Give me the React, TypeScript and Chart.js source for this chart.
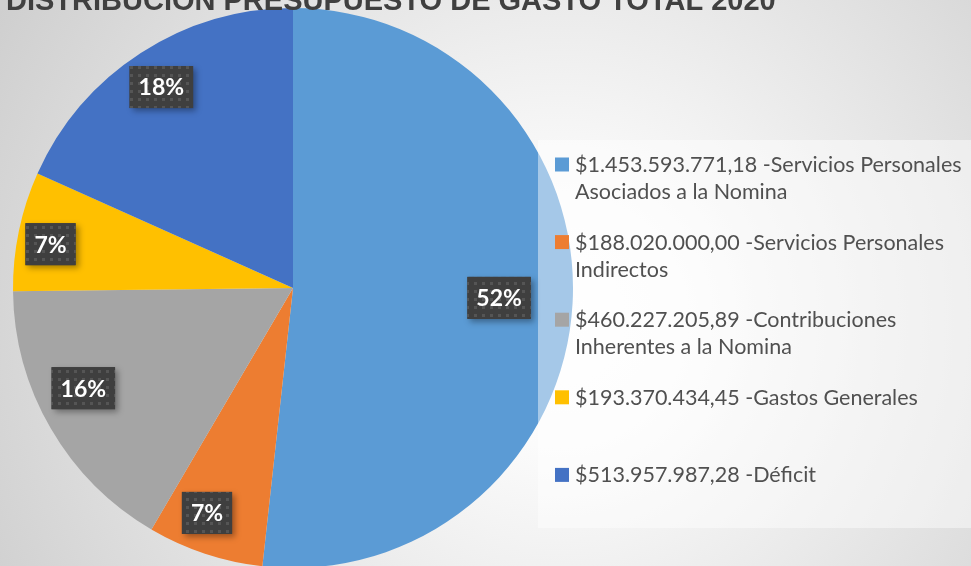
import React, { useEffect, useRef } from "react";
import { Chart, registerables } from "chart.js";
Chart.register(...registerables);

const TITLE = "DISTRIBUCION PRESUPUESTO DE GASTO TOTAL 2020";
const CATEGORIES = [
  "Servicios Personales Asociados a la Nomina",
  "Servicios Personales Indirectos",
  "Contribuciones Inherentes a la Nomina",
  "Gastos Generales",
  "Déficit",
];
const VALUES = [1453593771.18, 188020000.0, 460227205.89, 193370434.45, 513957987.28];
const LEGEND_LINES = [
  ["$1.453.593.771,18 -Servicios Personales", "Asociados a la Nomina"],
  ["$188.020.000,00 -Servicios Personales", "Indirectos"],
  ["$460.227.205,89 -Contribuciones", "Inherentes a la Nomina"],
  ["$193.370.434,45 -Gastos Generales"],
  ["$513.957.987,28 -Déficit"],
];
const COLORS = ["#5B9BD5", "#ED7D31", "#A5A5A5", "#FFC000", "#4472C4"];
const LABEL_RADIUS = [0.737, 0.86, 0.83, 0.88, 0.858];
const LABEL_ANGLE_SHIFT = [-0.4, 2.6, 4.6, -1.5, -0.3];

const W = 971;
const H = 566;
const CANVAS_H = 600;

function makePattern(ctx: CanvasRenderingContext2D) {
  const p = document.createElement("canvas");
  p.width = 8;
  p.height = 8;
  const c = p.getContext("2d")!;
  c.fillStyle = "#3f3f3f";
  c.fillRect(0, 0, 8, 8);
  c.fillStyle = "#555555";
  c.fillRect(2, 2, 3, 3);
  return ctx.createPattern(p, "repeat");
}

const bgPlugin = {
  id: "bg",
  beforeDraw(chart: any) {
    const ctx = chart.ctx as CanvasRenderingContext2D;
    ctx.save();
    const g = ctx.createRadialGradient(560, 320, 0, 560, 320, 640);
    g.addColorStop(0, "#ffffff");
    g.addColorStop(0.2, "#fbfbfb");
    g.addColorStop(1, "#cfcfcf");
    ctx.fillStyle = g;
    ctx.fillRect(0, 0, chart.width, chart.height);
    ctx.restore();
  },
};

const overlayPlugin = {
  id: "overlay",
  afterDatasetsDraw(chart: any) {
    const ctx = chart.ctx as CanvasRenderingContext2D;
    ctx.save();

    // Title (partly cut at top)
    ctx.fillStyle = "#404040";
    ctx.font = "bold 29px 'Liberation Sans', Arial, sans-serif";
    ctx.textBaseline = "alphabetic";
    ctx.textAlign = "left";
    ctx.fillText(TITLE, 6, 10);

    // Legend box
    ctx.fillStyle = "rgba(255,255,255,0.45)";
    ctx.fillRect(538, 140, W - 538, 388);

    // Legend items
    const startY = 164.5;
    const step = 77.6;
    const lineH = 27;
    ctx.font = "21.5px Lato, 'Noto Sans', sans-serif";
    for (let i = 0; i < LEGEND_LINES.length; i++) {
      const cy = startY + i * step;
      ctx.fillStyle = COLORS[i];
      ctx.fillRect(555, cy - 7, 14, 14);
      ctx.fillStyle = "#505050";
      LEGEND_LINES[i].forEach((line, j) => {
        ctx.fillText(line, 575, cy + 7.5 + j * lineH);
      });
    }

    // Data labels
    const total = VALUES.reduce((a, b) => a + b, 0);
    const meta = chart.getDatasetMeta(0);
    const pattern = makePattern(ctx);
    ctx.font = "bold 23px Lato, 'Noto Sans', sans-serif";
    meta.data.forEach((arc: any, i: number) => {
      const { x, y, startAngle, endAngle, outerRadius } = arc.getProps(
        ["x", "y", "startAngle", "endAngle", "outerRadius"],
        true
      );
      const mid = (startAngle + endAngle) / 2 + (LABEL_ANGLE_SHIFT[i] * Math.PI) / 180;
      const r = outerRadius * LABEL_RADIUS[i];
      const px = x + Math.cos(mid) * r;
      const py = y + Math.sin(mid) * r;
      const text = Math.round((VALUES[i] / total) * 100) + "%";
      const tw = ctx.measureText(text).width;
      const bw = tw + 18;
      const bh = 42;
      ctx.save();
      ctx.shadowColor = "rgba(0,0,0,0.35)";
      ctx.shadowBlur = 6;
      ctx.shadowOffsetX = 3;
      ctx.shadowOffsetY = 3;
      ctx.fillStyle = "#404040";
      ctx.fillRect(px - bw / 2, py - bh / 2, bw, bh);
      ctx.restore();
      if (pattern) {
        ctx.fillStyle = pattern;
        ctx.fillRect(px - bw / 2, py - bh / 2, bw, bh);
      }
      ctx.fillStyle = "#ffffff";
      ctx.textAlign = "center";
      ctx.textBaseline = "middle";
      ctx.fillText(text, px, py + 1);
      ctx.textAlign = "left";
      ctx.textBaseline = "alphabetic";
    });

    ctx.restore();
  },
};

export default function App() {
  const ref = useRef<HTMLCanvasElement>(null);
  useEffect(() => {
    const canvas = ref.current!;
    const chart = new Chart(canvas, {
      type: "pie",
      data: {
        labels: CATEGORIES,
        datasets: [
          {
            data: VALUES,
            backgroundColor: COLORS,
            borderWidth: 0,
          },
        ],
      },
      options: {
        responsive: false,
        animation: false,
        devicePixelRatio: 1,
        layout: { padding: { left: 13, right: W - 573, top: 8, bottom: CANVAS_H - 568 } },
        plugins: {
          legend: { display: false },
          tooltip: { enabled: false },
          title: { display: false },
        },
      },
      plugins: [bgPlugin, overlayPlugin],
    });
    return () => chart.destroy();
  }, []);
  return (
    <div style={{ position: "fixed", left: 0, top: 0, width: W, height: H, overflow: "hidden" }}>
      <canvas ref={ref} width={W} height={CANVAS_H} style={{ width: W, height: CANVAS_H, display: "block" }} />
    </div>
  );
}
